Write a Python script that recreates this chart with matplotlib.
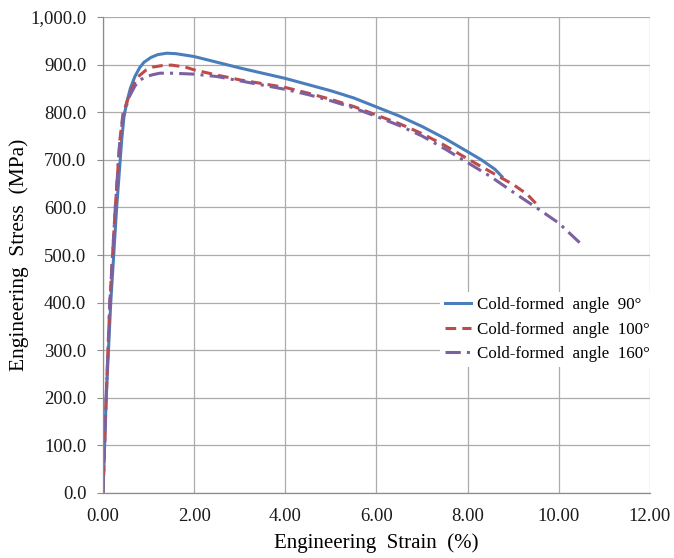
import numpy as np
import matplotlib
matplotlib.use('Agg')
import matplotlib.pyplot as plt
from matplotlib.ticker import FuncFormatter, MultipleLocator

plt.rcParams['font.family'] = ['Liberation Serif', 'DejaVu Serif']

# Engineering strain (%) and stress (MPa)
strain_90 = [0, 0.07, 0.17, 0.30, 0.41, 0.46, 0.52, 0.60, 0.70, 0.80, 0.90, 1.05, 1.2, 1.4,
             1.6, 2.0, 2.5, 3.0, 3.5, 4.0, 4.5, 5.0, 5.5, 6.0, 6.5, 7.0, 7.5, 8.0, 8.3, 8.6, 8.75]
stress_90 = [0, 200, 400, 600, 741, 790, 820, 850, 875, 893, 905, 915, 921, 924,
             923, 917, 905, 893, 882, 871, 858, 845, 830, 811, 792, 770, 745, 717, 700, 680, 665]

strain_100 = [0, 0.07, 0.15, 0.27, 0.37, 0.44, 0.52, 0.59, 0.70, 0.80, 0.95, 1.1, 1.3, 1.5,
              1.8, 2.0, 2.5, 3.0, 3.5, 4.0, 4.5, 5.0, 5.5, 6.0, 6.5, 7.0, 7.5, 8.0, 8.5, 9.0, 9.3, 9.5]
stress_100 = [0, 200, 400, 600, 741, 798, 820, 840, 862, 877, 889, 895, 898, 899,
              895, 889, 878, 868, 860, 852, 840, 827, 812, 794, 776, 755, 730, 702, 675, 648, 628, 608]

strain_160 = [0, 0.07, 0.15, 0.27, 0.37, 0.44, 0.52, 0.59, 0.70, 0.80, 0.95, 1.1, 1.25, 1.5,
              2.0, 2.5, 3.0, 3.5, 4.0, 4.5, 5.0, 5.5, 6.0, 6.5, 7.0, 7.5, 8.0, 8.5, 9.0, 9.5, 10.0, 10.5]
stress_160 = [0, 200, 400, 600, 741, 790, 815, 835, 855, 867, 875, 879, 882, 882,
              880, 875, 866, 857, 848, 837, 824, 809, 791, 772, 750, 723, 694, 665, 632, 600, 567, 522]

labels = ['Cold-formed  angle  90°', 'Cold-formed  angle  100°', 'Cold-formed  angle  160°']

fig = plt.figure(figsize=(6.74, 5.58), dpi=100)
ax = fig.add_axes([0.1528, 0.1165, 0.8116, 0.853])

ax.plot(strain_90, stress_90, color='#4A7EBB', lw=2.2, label=labels[0])
ax.plot(strain_100, stress_100, color='#BE4B48', lw=2.2, dashes=(3.5, 2), label=labels[1])
ax.plot(strain_160, stress_160, color='#7D60A0', lw=2.2, dashes=(5, 2, 1, 2), label=labels[2])

ax.set_xlim(0, 12)
ax.set_ylim(0, 1000)
ax.xaxis.set_major_locator(MultipleLocator(2))
ax.yaxis.set_major_locator(MultipleLocator(100))
ax.xaxis.set_major_formatter(FuncFormatter(lambda v, p: f'{v:.2f}'))
ax.yaxis.set_major_formatter(FuncFormatter(lambda v, p: f'{v:,.1f}'))

ax.grid(True, color='#ABABAB', lw=0.9)
ax.set_axisbelow(True)
for s in ['top', 'right']:
    ax.spines[s].set_visible(False)
for s in ['left', 'bottom']:
    ax.spines[s].set_color('#8C8C8C')
    ax.spines[s].set_linewidth(0.9)

ax.tick_params(axis='y', length=4, color='#8C8C8C', labelsize=13.5, pad=8, labelcolor='#1a1a1a')
ax.tick_params(axis='x', length=0, labelsize=13.5, pad=11, labelcolor='#1a1a1a')

ax.set_xlabel('Engineering  Strain  (%)', fontsize=15, labelpad=6)
ax.set_ylabel('Engineering  Stress  (MPa)', fontsize=15.5, labelpad=1)

leg = ax.legend(loc='upper left', bbox_to_anchor=(0.60, 0.44), fontsize=12.2,
                frameon=True, facecolor='white', edgecolor='none', framealpha=1,
                handlelength=1.55, handletextpad=0.35, labelspacing=0.5,
                borderpad=0.3, fancybox=False)

fig.savefig('out.png', dpi=100)
